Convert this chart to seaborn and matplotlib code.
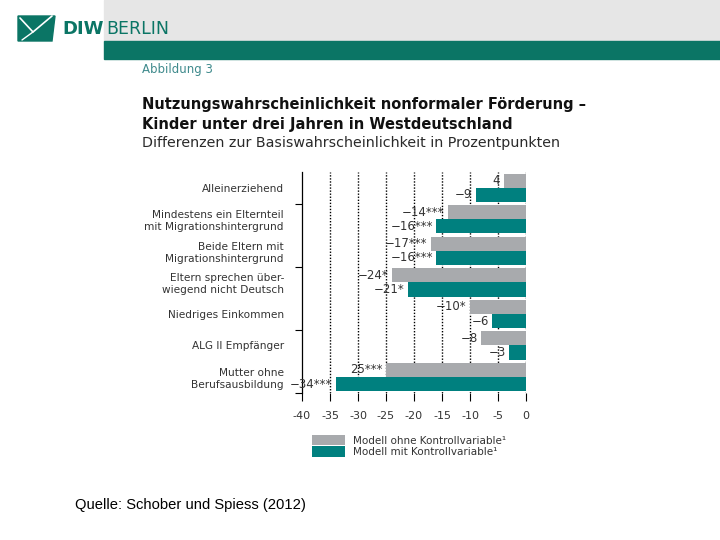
import numpy as np
import pandas as pd
import matplotlib.pyplot as plt
import seaborn as sns
from matplotlib.patches import Rectangle, Polygon, Patch
from matplotlib.lines import Line2D

# Data
categories = [
    'Alleinerziehend',
    'Mindestens ein Elternteil\nmit Migrationshintergrund',
    'Beide Eltern mit\nMigrationshintergrund',
    'Eltern sprechen über-\nwiegend nicht Deutsch',
    'Niedriges Einkommen',
    'ALG II Empfänger',
    'Mutter ohne\nBerufsausbildung',
]
ohne_kontrolle = [-4, -14, -17, -24, -10, -8, -25]
mit_kontrolle = [-9, -16, -16, -21, -6, -3, -34]
labels_ohne = ['4', '\u221214***', '\u221217***', '\u221224*', '\u221210*', '\u22128', '25***']
labels_mit = ['\u22129', '\u221216***', '\u221216***', '\u221221*', '\u22126', '\u22123', '\u221234***']
series_names = ['Modell ohne Kontrollvariable\u00b9', 'Modell mit Kontrollvariable\u00b9']
x_ticks = [-40, -35, -30, -25, -20, -15, -10, -5, 0]

GRAY = '#a8aaad'
TEAL = '#00807f'
HEADER = '#0b7565'
TXT = '#333333'

df = pd.DataFrame({
    'Kategorie': categories * 2,
    'Wert': ohne_kontrolle + mit_kontrolle,
    'Modell': [series_names[0]] * len(categories) + [series_names[1]] * len(categories),
})

sns.set_style('white')
plt.rcParams['font.family'] = ['DejaVu Sans']

fig = plt.figure(figsize=(7.2, 5.4), dpi=100)

# header band
fig.patches.append(Rectangle((104 / 720, 1 - 41 / 540), 616 / 720, 41 / 540,
                             transform=fig.transFigure, color='#e6e6e6', zorder=0))
fig.patches.append(Rectangle((104 / 720, 1 - 59 / 540), 616 / 720, 18 / 540,
                             transform=fig.transFigure, color=HEADER, zorder=1))
fig.patches.append(Polygon([(18 / 720, 1 - 16 / 540), (55 / 720, 1 - 16 / 540),
                            (52 / 720, 1 - 41 / 540), (18 / 720, 1 - 41 / 540)],
                           closed=True, transform=fig.transFigure, color=HEADER, zorder=1))
fig.lines.append(Line2D([20 / 720, 33 / 720, 52 / 720], [1 - 18 / 540, 1 - 32 / 540, 1 - 16 / 540],
                        transform=fig.transFigure, color='white', lw=1.2, zorder=2))
fig.lines.append(Line2D([22 / 720, 33 / 720], [1 - 40 / 540, 1 - 32 / 540],
                        transform=fig.transFigure, color='white', lw=1.0, zorder=2))
fig.text(62 / 720, 1 - 29 / 540, 'DIW', color=HEADER, fontsize=13, fontweight='bold',
         va='center', ha='left')
fig.text(106 / 720, 1 - 29 / 540, 'BERLIN', color=HEADER, fontsize=12.5,
         va='center', ha='left', family='Liberation Sans Narrow')

# titles
fig.text(142 / 720, 1 - 69 / 540, 'Abbildung 3', color='#3f8a8c', fontsize=8.5, va='center')
fig.text(142 / 720, 1 - 104 / 540, 'Nutzungswahrscheinlichkeit nonformaler Förderung –',
         fontsize=10.5, fontweight='bold', va='center', color='#111111')
fig.text(142 / 720, 1 - 124 / 540, 'Kinder unter drei Jahren in Westdeutschland',
         fontsize=10.5, fontweight='bold', va='center', color='#111111')
fig.text(142 / 720, 1 - 143 / 540, 'Differenzen zur Basiswahrscheinlichkeit in Prozentpunkten',
         fontsize=10.3, va='center', color='#2a2a2a')

fig.text(75 / 720, 1 - 505 / 540, 'Quelle: Schober und Spiess (2012)', fontsize=10.6,
         va='center', ha='left', color='black', family='Liberation Sans')

ax = fig.add_axes([302 / 720, 1 - 392.75 / 540, 224 / 720, 220.75 / 540])
sns.barplot(data=df, y='Kategorie', x='Wert', hue='Modell', orient='h',
            palette=[GRAY, TEAL], width=0.9, ax=ax, legend=False, saturation=1,
            linewidth=0)

ax.set_xlim(-40, 0)
ax.set_ylim(6.5, -0.5)
ax.set_xlabel('')
ax.set_ylabel('')

# dotted gridlines
for xv in x_ticks[1:]:
    ax.axvline(xv, color='black', lw=1.0, ls=(0, (1, 1.2)), zorder=0)

for s in ['top', 'right', 'bottom']:
    ax.spines[s].set_visible(False)
ax.spines['left'].set_color('black')
ax.spines['left'].set_linewidth(0.9)

ax.set_xticks(x_ticks)
ax.set_xticklabels([str(v) for v in x_ticks], fontsize=8, color=TXT)
ax.tick_params(axis='x', direction='out', length=6, width=0.8, color='black', pad=7, bottom=True)

ax.set_yticks(range(len(categories)))
ax.set_yticklabels(categories, fontsize=7.6, color=TXT, linespacing=1.25)
ax.tick_params(axis='y', which='major', length=0, pad=13)
ax.set_yticks([0.5, 2.5, 4.5, 6.5], minor=True)
ax.tick_params(axis='y', which='minor', direction='out', length=5, width=0.8,
               color='black', left=True)

# value labels
for cont, labs in zip(ax.containers, [labels_ohne, labels_mit]):
    ax.bar_label(cont, labels=labs, padding=2.5, fontsize=8.5, color=TXT)

handles = [Patch(facecolor=GRAY, edgecolor='none'), Patch(facecolor=TEAL, edgecolor='none')]
ax.legend(handles, series_names, loc='upper left', bbox_to_anchor=(312 / 720, 1 - 435 / 540),
          bbox_transform=fig.transFigure, frameon=False,
          prop={'size': 7.5}, handlelength=3.2, handleheight=1.15, labelspacing=0.05,
          handletextpad=0.75, borderpad=0, borderaxespad=0, labelcolor=TXT)

fig.savefig('out.png', dpi=100)
